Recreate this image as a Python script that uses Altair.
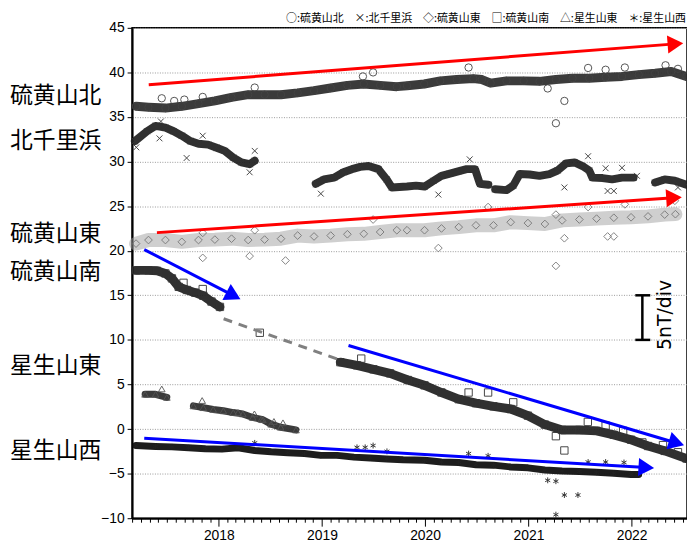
import altair as alt
import pandas as pd

# ---------------- data ----------------
# 硫黄山北 (circles)
kita_dates = ["2017-03-14", "2017-04-27", "2017-06-26", "2017-08-23", "2017-10-21", "2017-12-18",
              "2018-02-15", "2018-04-15", "2018-06-12", "2018-08-09", "2018-10-07", "2018-12-04",
              "2019-02-01", "2019-04-01", "2019-05-29", "2019-07-26", "2019-09-23", "2019-10-29",
              "2019-12-29", "2020-02-24", "2020-04-22", "2020-06-20", "2020-07-20", "2020-08-20",
              "2020-10-15", "2020-12-15", "2021-02-09", "2021-04-08", "2021-06-06", "2021-08-04",
              "2021-10-01", "2021-11-28", "2022-01-26", "2022-03-25", "2022-05-21", "2022-07-14"]
kita_vals = [36.2, 36.1, 36.0, 36.2, 36.5, 36.8,
             37.2, 37.5, 37.5, 37.5, 37.7, 37.95,
             38.25, 38.55, 38.7, 38.55, 38.4, 38.5,
             38.7, 39.05, 39.2, 39.3, 39.2, 38.8,
             39.05, 39.05, 39.0, 39.2, 39.35, 39.35,
             39.45, 39.55, 39.75, 39.9, 40.1, 39.55]
kita_out_dates = ["2017-06-13", "2017-07-27", "2017-09-01", "2017-11-05", "2018-05-08", "2019-05-26",
                  "2019-07-01", "2020-06-03", "2021-03-10", "2021-04-08", "2021-05-08", "2021-07-31",
                  "2021-10-01", "2021-12-08", "2022-05-01", "2022-06-14"]
kita_out_vals = [37.1, 36.8, 36.95, 37.25, 38.3, 39.55,
                 40.0, 40.55, 38.2, 34.3, 36.8, 40.5,
                 40.3, 40.55, 40.8, 40.4]

# 北千里浜 (x), in segments
chisato_dates = [
    ["2017-03-10", "2017-04-22", "2017-05-22", "2017-06-26", "2017-07-25", "2017-08-23", "2017-09-22",
     "2017-10-21", "2017-11-24", "2017-12-24", "2018-01-22", "2018-02-21", "2018-03-22", "2018-04-20",
     "2018-05-08"],
    ["2018-12-10", "2019-01-08", "2019-02-13", "2019-03-18", "2019-04-17", "2019-05-16", "2019-06-15",
     "2019-07-20", "2019-08-18", "2019-09-05", "2019-10-29", "2019-11-30", "2019-12-30", "2020-01-31",
     "2020-02-28", "2020-03-29", "2020-04-27", "2020-05-27", "2020-06-26", "2020-07-13", "2020-08-12"],
    ["2020-09-05", "2020-10-15", "2020-11-08", "2020-12-01", "2021-01-05", "2021-02-09", "2021-03-16",
     "2021-04-14", "2021-05-14", "2021-06-13", "2021-07-11", "2021-08-04", "2021-08-15", "2021-09-20",
     "2021-10-24", "2021-11-28", "2022-01-08"],
    ["2022-03-25", "2022-04-28", "2022-06-03", "2022-07-14"],
]
chisato_vals = [
    [32.3, 33.4, 34.0, 33.8, 33.4, 32.9, 32.3, 32.0, 31.9, 31.55, 31.2, 30.45, 29.9, 29.7, 30.1],
    [27.5, 28.0, 28.2, 28.8, 29.15, 29.4, 29.5, 29.15, 28.0, 27.1, 27.2, 27.3, 27.2, 27.85,
     28.4, 28.65, 28.9, 29.15, 29.15, 27.5, 27.4],
    [26.9, 26.8, 27.3, 28.6, 28.55, 28.4, 28.6, 29.0, 29.8, 29.9, 29.5, 29.0, 28.2, 28.15,
     28.0, 28.2, 28.2],
    [27.65, 28.0, 27.85, 27.4],
]
chisato_out_dates = ["2017-03-15", "2017-06-10", "2017-06-05", "2017-09-09", "2017-11-05", "2018-05-08",
                     "2018-04-20", "2018-12-28", "2020-02-17", "2020-06-07", "2021-05-08", "2021-07-31",
                     "2021-10-08", "2021-10-30", "2021-11-28", "2022-01-20", "2021-10-01", "2022-06-14"]
chisato_out_vals = [31.6, 34.5, 32.6, 30.4, 32.9, 31.2,
                    28.8, 26.4, 26.3, 30.25, 27.1, 30.6,
                    26.7, 26.7, 29.3, 28.4, 29.25, 27.1]

# 硫黄山東 (diamonds)
higashi_dates = ["2017-03-14", "2017-04-27", "2017-06-26", "2017-08-23", "2017-10-21", "2017-12-18",
                 "2018-02-15", "2018-04-15", "2018-06-12", "2018-08-09", "2018-10-07", "2018-12-04",
                 "2019-02-01", "2019-04-01", "2019-05-29", "2019-07-26", "2019-09-23", "2019-10-29",
                 "2019-12-30", "2020-02-28", "2020-04-29", "2020-06-29", "2020-08-30", "2020-10-30",
                 "2020-12-30", "2021-02-28", "2021-04-30", "2021-06-30", "2021-08-30", "2021-10-30",
                 "2021-12-30", "2022-02-28", "2022-04-28", "2022-06-05"]
higashi_vals = [20.8, 21.2, 21.2, 21.0, 21.2, 21.25,
                21.35, 21.2, 21.25, 21.35, 21.7, 21.6,
                21.7, 21.85, 21.9, 22.1, 22.3, 22.3,
                22.3, 22.5, 22.65, 22.85, 22.85, 23.2,
                23.1, 23.0, 23.4, 23.5, 23.6, 23.7,
                23.75, 23.85, 24.05, 24.1]
higashi_out_dates = ["2017-11-05", "2018-04-20", "2018-08-25", "2020-02-17", "2021-04-08", "2021-05-08",
                     "2021-10-08", "2021-10-30", "2017-11-05", "2018-05-08", "2019-07-01", "2020-08-11",
                     "2021-04-08", "2021-07-31", "2021-12-08", "2022-06-03"]
higashi_out_vals = [19.2, 19.4, 18.9, 20.3, 18.3, 21.4,
                    21.6, 21.6, 22.0, 22.3, 23.5, 24.9,
                    24.05, 24.9, 25.2, 25.6]

# 硫黄山南 (squares), in segments
minami_dates = [
    ["2017-03-14", "2017-04-27", "2017-05-27", "2017-06-26", "2017-07-19", "2017-08-12", "2017-09-10",
     "2017-10-09", "2017-11-07", "2017-12-06", "2018-01-05"],
    ["2019-03-07", "2019-05-05", "2019-07-02", "2019-08-30", "2019-11-01", "2019-12-30", "2020-02-28",
     "2020-04-29", "2020-06-29", "2020-08-30", "2020-10-30", "2020-12-30", "2021-02-28", "2021-04-30",
     "2021-06-30", "2021-08-30", "2021-10-30", "2021-12-30", "2022-02-28", "2022-04-28", "2022-07-14"],
]
minami_vals = [
    [17.8, 17.8, 17.75, 17.45, 16.9, 15.95, 15.6, 15.3, 14.95, 14.3, 13.7],
    [7.5, 7.15, 6.7, 6.25, 5.5, 4.9, 4.1, 3.35, 2.9, 2.55, 2.25, 1.5, 0.5, -0.1,
     -0.1, -0.2, -0.65, -1.2, -1.9, -2.45, -3.3],
]
minami_out_dates = ["2017-08-29", "2017-11-05", "2018-05-26", "2019-05-20", "2020-06-03", "2020-08-11",
                    "2020-11-08", "2021-04-08", "2021-05-08", "2021-07-30", "2021-10-01", "2021-12-02",
                    "2022-02-08", "2022-04-22", "2022-06-14"]
minami_out_vals = [16.4, 15.7, 10.8, 7.9, 4.1, 4.1,
                   3.0, -0.8, -2.4, 0.8, 0.4, -0.2,
                   -1.5, -1.8, -2.6]

# 星生山東 (triangles), in segments
hoshie_dates = [
    ["2017-04-15", "2017-05-22", "2017-07-01"],
    ["2017-10-03", "2017-11-07", "2017-12-12", "2018-01-17", "2018-02-21", "2018-03-27", "2018-05-01",
     "2018-06-06", "2018-07-05", "2018-08-08", "2018-10-01"],
]
hoshie_vals = [
    [3.9, 3.9, 3.55],
    [2.6, 2.4, 2.2, 2.05, 1.85, 1.7, 1.3, 1.05, 0.55, 0.2, -0.1],
]
hoshie_out_dates = ["2017-06-13", "2017-11-03", "2018-03-10", "2018-05-07", "2018-07-15", "2018-08-16",
                    "2018-05-31"]
hoshie_out_vals = [4.5, 3.2, 1.85, 1.7, 0.85, 0.7, 1.1]

# 星生山西 (asterisks)
hoshiw_dates = ["2017-03-14", "2017-05-22", "2017-07-19", "2017-09-16", "2017-11-14", "2018-01-12",
                "2018-03-10", "2018-05-08", "2018-07-05", "2018-09-02", "2018-10-31", "2018-12-28",
                "2019-02-24", "2019-04-24", "2019-06-21", "2019-08-18", "2019-10-15", "2019-12-30",
                "2020-02-28", "2020-04-29", "2020-06-29", "2020-08-30", "2020-10-30", "2020-12-30",
                "2021-02-28", "2021-04-30", "2021-06-30", "2021-08-30", "2021-10-30", "2021-12-30",
                "2022-01-26"]
hoshiw_vals = [-1.85, -1.95, -2.0, -2.1, -2.2, -2.25,
               -2.1, -2.4, -2.55, -2.65, -2.75, -2.95,
               -2.95, -3.15, -3.25, -3.35, -3.45, -3.5,
               -3.7, -3.75, -4.0, -4.05, -4.25, -4.35,
               -4.6, -4.7, -4.75, -4.85, -4.95, -5.1,
               -5.1]
hoshiw_out_dates = ["2018-05-08", "2019-05-05", "2019-06-03", "2019-07-01", "2019-08-19", "2020-06-03",
                    "2020-08-11", "2021-07-31", "2021-10-01", "2021-12-05", "2021-03-10", "2021-04-08",
                    "2021-05-08", "2021-06-25", "2021-04-08"]
hoshiw_out_vals = [-1.55, -2.05, -2.05, -1.85, -2.5, -2.75,
                   -3.0, -3.7, -3.7, -3.75, -5.75, -5.85,
                   -7.4, -7.4, -9.6]

station_names = ["硫黄山北", "北千里浜", "硫黄山東", "硫黄山南", "星生山東", "星生山西"]
legend_symbols = ["○", "×", "◇", "□", "△", "＊"]
station_label_vals = [37.3, 32.3, 21.85, 17.6, 7.1, -2.45]

# trend arrows (start / head)
arrow_start_dates = ["2017-04-28", "2017-05-27", "2017-04-12", "2019-04-05", "2017-04-12"]
arrow_start_vals = [38.62, 22.03, 20.13, 9.37, -1.02]
arrow_head_dates = ["2022-06-05", "2022-05-31", "2018-02-22", "2022-06-09", "2022-02-22"]
arrow_head_vals = [43.2, 25.95, 14.96, -1.56, -4.31]
arrow_colors = ["#ff0000", "#ff0000", "#0000ff", "#0000ff", "#0000ff"]
arrow_angles = [355.6, 356.2, 27.5, 16.6, 3.3]

# dashed link of 硫黄山南
dash_dates = ["2018-01-18", "2019-02-28"]
dash_vals = [12.37, 7.81]

# scale bar
bar_date = "2022-02-08"
bar_cap_dates = ["2022-01-14", "2022-03-08"]
bar_vals = [10, 15]
bar_label_date = "2022-04-28"
bar_label_val = 12.8
bar_label = "5nT/div"

y_ticks = [-10, -5, 0, 5, 10, 15, 20, 25, 30, 35, 40, 45]
x_domain = ["2017-02-28", "2022-07-16"]

# ---------------- chart ----------------
CJK = "Noto Sans CJK JP"
LAT = "Liberation Sans"

X_AXIS = alt.Axis(title=None, grid=False,
                  tickCount={"interval": "month", "step": 1},
                  labelExpr="utcmonth(datum.value) == 0 ? utcFormat(datum.value, '%Y') : ''",
                  tickSize={"condition": {"test": "utcmonth(datum.value) == 0", "value": 8}, "value": 4},
                  tickColor="black", tickWidth=1,
                  domainColor="black", domainWidth=2,
                  labelFont=LAT, labelFontSize=14, labelColor="black",
                  labelPadding=2, labelOverlap=False, labelFlush=False, labelBound=False)
Y_AXIS = alt.Axis(title=None, values=y_ticks, format="d", grid=True,
                  gridColor="#999999", gridDash=[1, 1.5], gridWidth=1,
                  tickSize=5, tickColor="black", domainColor="black", domainWidth=2,
                  labelFont=LAT, labelFontSize=14, labelColor="black", labelPadding=3)
X_SCALE = alt.Scale(type="utc", domain=x_domain)
Y_SCALE = alt.Scale(domain=[-10, 45], nice=False, zero=False)


def X(field="date"):
    return alt.X(f"{field}:T", scale=X_SCALE, axis=X_AXIS)


def Y(field="value"):
    return alt.Y(f"{field}:Q", scale=Y_SCALE, axis=Y_AXIS)


XSHAPE = "M-1,-1L1,1M-1,1L1,-1"
STAR = "M0,-1L0,1M-0.87,-0.5L0.87,0.5M-0.87,0.5L0.87,-0.5"

series = [
    # name, dates(segments), vals, out dates, out vals, shape, point color, line color, line width, line opacity, size
    ("硫黄山北", [kita_dates], [kita_vals], kita_out_dates, kita_out_vals, "circle", "#444444", "#2a2a2a", 9, 0.92, 55),
    ("北千里浜", chisato_dates, chisato_vals, chisato_out_dates, chisato_out_vals, XSHAPE, "#333333", "#1e1e1e", 8, 0.92, 35),
    ("硫黄山東", [higashi_dates], [higashi_vals], higashi_out_dates, higashi_out_vals, "diamond", "#777777", "#a0a0a0", 14, 0.5, 60),
    ("硫黄山南", minami_dates, minami_vals, minami_out_dates, minami_out_vals, "square", "#333333", "#1e1e1e", 9, 0.92, 55),
    ("星生山東", hoshie_dates, hoshie_vals, hoshie_out_dates, hoshie_out_vals, "triangle-up", "#555555", "#2a2a2a", 7, 0.92, 45),
    ("星生山西", [hoshiw_dates], [hoshiw_vals], hoshiw_out_dates, hoshiw_out_vals, STAR, "#222222", "#111111", 7, 0.95, 35),
]

layers = []
for name, sd, sv, od, ov, shape, pc, lc, lw, lo, sz in series:
    rows = []
    for si, (ds, vs) in enumerate(zip(sd, sv)):
        for d, v in zip(ds, vs):
            rows.append({"seg": f"{name}{si}", "date": d, "value": v})
    df = pd.DataFrame(rows)
    dfo = pd.DataFrame({"date": od, "value": ov})
    layers.append(alt.Chart(df).mark_line(color=lc, strokeWidth=lw, opacity=lo,
                                          strokeCap="round", strokeJoin="round")
                  .encode(x=X(), y=Y(), detail="seg:N"))
    allpts = pd.concat([df[["date", "value"]], dfo], ignore_index=True)
    layers.append(alt.Chart(allpts).mark_point(shape=shape, filled=False, size=sz, color=pc,
                                               strokeWidth=1, opacity=0.9)
                  .encode(x=X(), y=Y()))

# dashed connector
layers.append(alt.Chart(pd.DataFrame({"date": dash_dates, "value": dash_vals}))
              .mark_line(color="#808080", strokeWidth=3, strokeDash=[9, 7]).encode(x=X(), y=Y()))

# arrows
arrow_rows = []
for i in range(len(arrow_colors)):
    arrow_rows.append({"id": i, "date": arrow_start_dates[i], "value": arrow_start_vals[i], "col": arrow_colors[i]})
    arrow_rows.append({"id": i, "date": arrow_head_dates[i], "value": arrow_head_vals[i], "col": arrow_colors[i]})
arrow_df = pd.DataFrame(arrow_rows)
layers.append(alt.Chart(arrow_df).mark_line(strokeWidth=3).encode(
    x=X(), y=Y(), detail="id:N", color=alt.Color("col:N", scale=None)))
head_df = pd.DataFrame({"date": arrow_head_dates, "value": arrow_head_vals,
                        "col": arrow_colors, "ang": arrow_angles})
layers.append(alt.Chart(head_df).mark_point(shape="triangle-right", filled=True, size=330, opacity=1,
                                            strokeWidth=0).encode(
    x=X(), y=Y(), color=alt.Color("col:N", scale=None), angle=alt.Angle("ang:Q", scale=None)))

# scale bar
layers.append(alt.Chart(pd.DataFrame({"date": [bar_date], "v1": [bar_vals[0]], "v2": [bar_vals[1]]}))
              .mark_rule(color="black", strokeWidth=2.5)
              .encode(x=X(), y=Y("v1"), y2="v2:Q"))
layers.append(alt.Chart(pd.DataFrame({"d1": [bar_cap_dates[0]] * 2, "d2": [bar_cap_dates[1]] * 2, "value": bar_vals}))
              .mark_rule(color="black", strokeWidth=2.5)
              .encode(x=X("d1"), x2="d2:T", y=Y()))
layers.append(alt.Chart(pd.DataFrame({"date": [bar_label_date], "value": [bar_label_val], "t": [bar_label]}))
              .mark_text(angle=270, fontSize=19, font="DejaVu Sans", color="black", baseline="middle", align="center")
              .encode(x=X(), y=Y(), text="t:N"))

# station labels outside the plot
layers.append(alt.Chart(pd.DataFrame({"name": station_names, "value": station_label_vals}))
              .mark_text(align="left", baseline="middle", fontSize=23, font=CJK, color="black")
              .encode(x=alt.value(-123), y=Y(), text="name:N"))

# legend line at top right
legend_str = "\u3000".join(f"{s}:{n}" for s, n in zip(legend_symbols, station_names))
layers.append(alt.Chart(pd.DataFrame({"t": [legend_str]}))
              .mark_text(align="right", baseline="middle", fontSize=11, font=CJK, color="black")
              .encode(x=alt.value(558), y=alt.value(-9), text="t:N"))

chart = alt.layer(*layers).properties(
    width=559, height=494,
    padding={"left": 125, "top": 18, "right": 0, "bottom": 24},
    autosize=alt.AutoSizeParams(type="none"),
).configure_view(stroke="black", strokeWidth=1.5)

chart.save("out.html", embed_options={"renderer": "svg", "actions": False})
